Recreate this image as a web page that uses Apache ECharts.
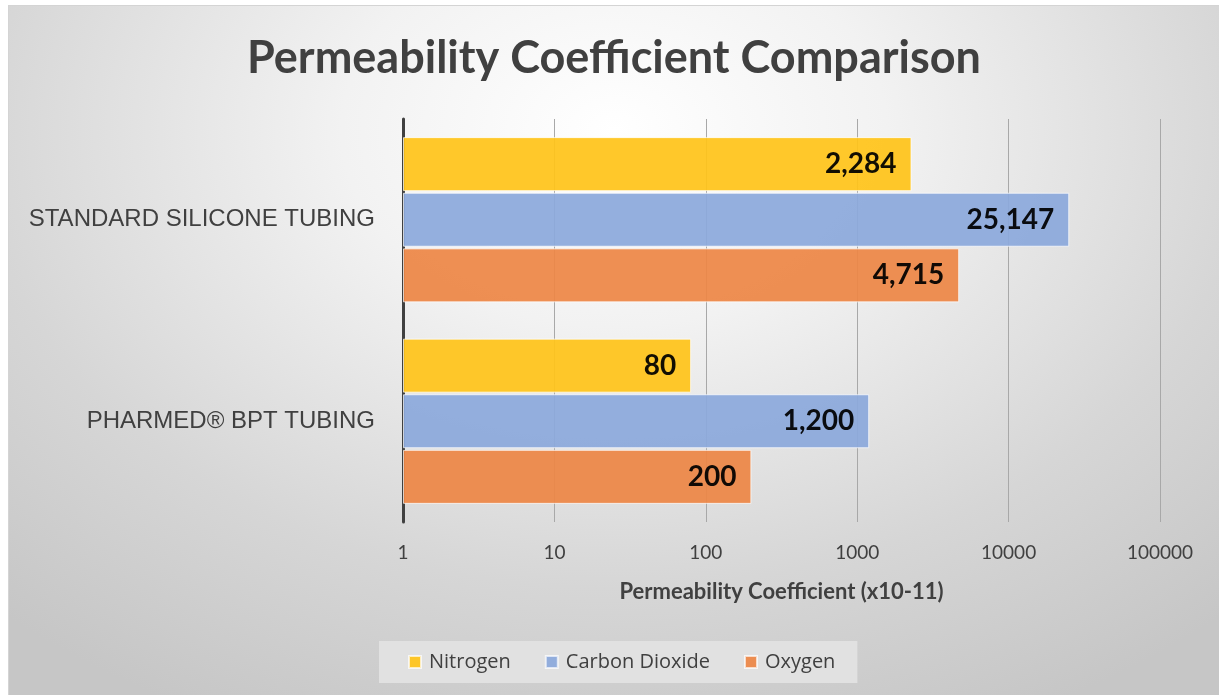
<!DOCTYPE html>
<html>
<head>
<meta charset="utf-8">
<script src="https://cdn.jsdelivr.net/npm/echarts@6/dist/echarts.min.js"></script>
<style>
  html, body { margin: 0; padding: 0; background: #ffffff; width: 1219px; height: 695px; overflow: hidden; }
  #chart {
    position: absolute; left: 8px; top: 5px; width: 1211px; height: 690px;
    background: radial-gradient(ellipse 75% 95% at 50% 18%, #ffffff 0%, #f2f2f2 30%, #d6d6d6 70%, #c6c6c6 100%);
    border-top: 1px solid #d4d4d4; border-left: 1px solid #d4d4d4; box-sizing: border-box;
  }
</style>
</head>
<body>
<div id="chart"></div>
<script>
const titleText = 'Permeability Coefficient Comparison';
const categories = ['STANDARD SILICONE TUBING', 'PHARMED® BPT TUBING'];
const seriesNames = ['Nitrogen', 'Carbon Dioxide', 'Oxygen'];
const nitrogen = [2284, 80];
const carbonDioxide = [25147, 1200];
const oxygen = [4715, 200];
const axisMin = 1;
const axisMax = 100000;
const axisName = 'Permeability Coefficient (x10-11)';

const colors = ['#FFC41A', '#8CA9DC', '#ED8646'];
const dataSets = [nitrogen, carbonDioxide, oxygen];

const chart = echarts.init(document.getElementById('chart'), null, { renderer: 'canvas' });

const fmt = v => Number(v).toLocaleString('en-US');

const option = {
  backgroundColor: 'transparent',
  animation: false,
  title: {
    text: titleText,
    left: 'center',
    top: 25,
    textStyle: { fontFamily: 'Lato', fontWeight: 'bold', fontSize: 45, color: '#404040' }
  },
  legend: {
    data: seriesNames,
    left: 370,
    top: 635,
    backgroundColor: '#e1e1e1',
    padding: [11, 22, 11, 29],
    itemWidth: 12,
    itemHeight: 12,
    itemGap: 34,
    icon: 'rect',
    textStyle: { fontFamily: 'Open Sans', fontSize: 20, color: '#404040', padding: [0, 0, 0, 3] }
  },
  grid: { left: 394, right: 59, top: 113, bottom: 173, containLabel: false },
  xAxis: {
    type: 'log',
    logBase: 10,
    min: axisMin,
    max: axisMax,
    name: axisName,
    nameLocation: 'middle',
    nameGap: 59,
    nameTextStyle: { fontFamily: 'Lato', fontWeight: 'bold', fontSize: 22, color: '#404040' },
    axisLine: { show: false },
    axisTick: { show: false },
    axisLabel: { fontFamily: 'Lato', fontSize: 19, color: '#404040', margin: 21, formatter: v => String(v) },
    splitLine: { show: true, lineStyle: { color: '#a8a8a8', width: 1 } }
  },
  yAxis: {
    type: 'category',
    data: categories,
    inverse: true,
    axisLine: { show: true, onZero: false, lineStyle: { color: '#404040', width: 3 } },
    axisTick: { show: false },
    axisLabel: { fontFamily: 'Liberation Sans', fontSize: 24, color: '#404040', margin: 28 }
  },
  series: seriesNames.map((name, i) => ({
    name: name,
    type: 'bar',
    data: dataSets[i],
    barCategoryGap: '18%',
    barGap: '3%',
    itemStyle: { color: colors[i], opacity: 0.93, borderColor: 'rgba(255,255,255,0.75)', borderWidth: 1 },
    label: {
      show: true,
      position: 'insideRight',
      distance: 15,
      formatter: p => fmt(p.value),
      fontFamily: 'Lato',
      fontWeight: 'bold',
      fontSize: 28,
      color: '#000000'
    }
  }))
};

chart.setOption(option);
</script>
</body>
</html>
